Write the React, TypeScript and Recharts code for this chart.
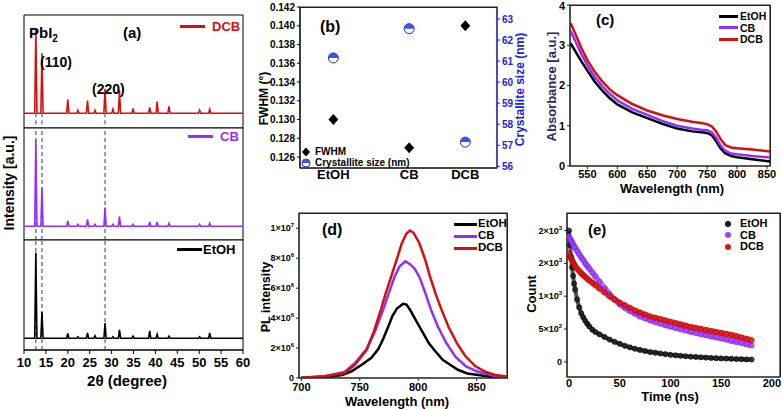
import React from "react";
import { ComposedChart, Line, Scatter, XAxis, YAxis, ReferenceLine, ReferenceArea, Legend } from "recharts";

const FONT = "Arial, 'Liberation Sans', sans-serif";
const RED = "#d41010";
const PURPLE = "#9030f8";
const BLACK = "#000000";
const DASH = "#2d6b8c";
const BLUE = "#2222dd";
const FRAME = "#222222";

// (a) XRD: peak positions (2θ) and peak heights (a.u.) per solvent
const xrdPeakPos = [12.7, 14.1, 20.0, 22.3, 24.5, 26.2, 28.5, 30.3, 31.8, 34.9, 38.7, 40.4, 43.1, 50.1, 52.4];
const xrdDCB = [86, 61, 14, 3, 13, 3, 25, 4, 23, 5, 6, 12, 7, 3, 4];
const xrdCB = [88, 39, 5.5, 2, 7, 2, 19, 2, 10, 2, 4.5, 4.5, 3, 2, 3];
const xrdEtOH = [87, 27, 5, 1.5, 5.5, 2.5, 15.5, 1.5, 8.5, 2, 7.5, 4, 2, 1.5, 5.5];
const xrdGuides = [12.7, 14.1, 28.5];
const xrdTicks = [10, 15, 20, 25, 30, 35, 40, 45, 50, 55, 60];
const PEAK_HALF = 0.25;

// (b) FWHM / crystallite size
const solvents = ["EtOH", "CB", "DCB"];
const solventPos = [1, 2, 2.74];
const fwhmVals = [0.13, 0.127, 0.14];
const crystalSizes = [61.15, 62.54, 57.15];
const fwhmTicks = [0.126, 0.128, 0.13, 0.132, 0.134, 0.136, 0.138, 0.14, 0.142];
const sizeTicks = [56, 57, 58, 59, 60, 61, 62, 63];

// (c) absorbance
const absWl = [522, 530, 540, 550, 562, 575, 587, 600, 625, 650, 675, 700, 725, 740, 750, 758, 765, 772, 780, 790, 800, 825, 855];
const absEtOH = [3.05, 2.85, 2.6, 2.37, 2.1, 1.87, 1.69, 1.53, 1.33, 1.19, 1.05, 0.93, 0.86, 0.84, 0.82, 0.76, 0.62, 0.45, 0.32, 0.25, 0.22, 0.17, 0.11];
const absCB = [3.35, 3.1, 2.78, 2.5, 2.22, 1.98, 1.8, 1.63, 1.42, 1.27, 1.12, 1.0, 0.93, 0.9, 0.89, 0.83, 0.7, 0.52, 0.38, 0.31, 0.29, 0.25, 0.21];
const absDCB = [3.55, 3.28, 2.93, 2.63, 2.35, 2.1, 1.91, 1.76, 1.54, 1.38, 1.26, 1.17, 1.1, 1.07, 1.04, 0.98, 0.86, 0.68, 0.52, 0.46, 0.44, 0.41, 0.36];
const absXTicks = [550, 600, 650, 700, 750, 800, 850];
const absYTicks = [0, 1, 2, 3, 4];

// (d) PL spectra (intensity in units of 10^6)
const plEtohWl = [700, 720, 735, 743, 752, 760, 766, 770, 774, 778, 782, 787, 790, 793, 797, 801, 805, 809, 815, 821, 827, 834, 842, 850, 865, 876];
const plEtoh = [0.01, 0.05, 0.2, 0.45, 0.9, 1.35, 1.95, 2.6, 3.35, 4.15, 4.65, 4.95, 4.9, 4.56, 4.0, 3.44, 2.9, 2.33, 1.75, 1.22, 0.9, 0.55, 0.3, 0.22, 0.05, 0.02];
const plCbWl = [700, 720, 737, 746, 756, 763, 770, 775, 780, 784, 789, 793, 797, 801, 806, 811, 817, 824, 832, 841, 850, 866, 876];
const plCb = [0.02, 0.12, 0.4, 1.0, 1.95, 3.1, 4.55, 5.7, 6.8, 7.45, 7.8, 7.6, 7.3, 6.75, 5.7, 4.55, 3.4, 2.35, 1.4, 0.78, 0.45, 0.12, 0.05];
const plDcbWl = [700, 720, 737, 746, 756, 762, 768, 772, 777, 782, 786, 790, 793, 796, 801, 806, 810, 815, 820, 826, 833, 840, 849, 858, 866, 876];
const plDcb = [0.02, 0.11, 0.33, 0.9, 1.9, 3.1, 4.55, 5.6, 6.8, 8.0, 9.0, 9.65, 9.85, 9.7, 9.0, 7.9, 6.8, 5.6, 4.55, 3.4, 2.35, 1.5, 0.78, 0.4, 0.2, 0.1];
const plXTicks = [700, 750, 800, 850];
const plYTicks = [0, 2, 4, 6, 8, 10];
const plYMant = ["0", "2", "4", "6", "8", "1"];
const plYExp = ["", "6", "6", "6", "6", "7"];

// (e) TRPL decay
const trTimes = [0, 1, 2, 3, 4, 5, 6, 8, 10, 12, 14, 16, 18, 20, 23, 26, 30, 35, 40, 45, 50, 55, 60, 65, 70, 75, 80, 85, 90, 95, 100, 105, 110, 115, 120, 125, 130, 135, 140, 145, 150, 155, 160, 165, 170, 175, 180];
const trEtOH = [2000, 1780, 1600, 1440, 1310, 1190, 1100, 950, 830, 740, 680, 625, 580, 540, 490, 455, 420, 380, 340, 305, 275, 245, 222, 200, 182, 166, 150, 140, 128, 118, 108, 100, 93, 86, 80, 75, 70, 65, 61, 57, 53, 50, 47, 44, 41, 38, 36];
const trCB = [1900, 1880, 1850, 1820, 1790, 1760, 1740, 1690, 1640, 1590, 1550, 1500, 1460, 1420, 1360, 1300, 1220, 1120, 1030, 950, 880, 825, 775, 735, 695, 665, 635, 610, 585, 560, 540, 520, 500, 480, 460, 442, 425, 408, 390, 375, 360, 342, 322, 305, 290, 270, 250];
const trDCB = [1650, 1610, 1575, 1545, 1515, 1485, 1460, 1420, 1385, 1350, 1320, 1295, 1265, 1240, 1205, 1170, 1120, 1060, 1000, 950, 900, 860, 820, 780, 750, 720, 690, 670, 650, 630, 610, 590, 570, 550, 530, 515, 500, 485, 470, 455, 440, 425, 410, 390, 370, 350, 330];
const trXTicks = [0, 50, 100, 150, 200];
const trYTicks = [0, 500, 1000, 1500, 2000];
const trYMant = ["0", "5", "1", "2", "2"];
const trYExp = ["", "2", "3", "3", "3"];

const tickStyle = (fs: number, fill = "#000") => ({ fontSize: fs, fontWeight: 700, fontFamily: FONT, fill });

const xrdProfile = (heights: number[]) => {
  const pts = [{ x: 10, y: 0 }];
  xrdPeakPos.forEach((p, i) => {
    pts.push({ x: p - PEAK_HALF, y: 0 }, { x: p, y: heights[i] }, { x: p + PEAK_HALF, y: 0 });
  });
  pts.push({ x: 60, y: 0 });
  return pts;
};

// y tick like "2×10⁶" with a raised exponent
const powTick = (ticks: number[], mant: string[], exps: string[], fs: number) => (props: any) => {
  const i = ticks.indexOf(props.payload.value);
  const e = exps[i];
  return (
    <text x={props.x} y={props.y} textAnchor="end" dy="0.35em" fontFamily={FONT} fontWeight={700} fontSize={fs} fill="#000">
      <tspan>{e ? `${mant[i]}×10` : mant[i]}</tspan>
      {e ? <tspan dy={-4} fontSize={fs - 3}>{e}</tspan> : null}
    </text>
  );
};

const vLabel = (text: string, dx: number, dy: number, fs: number, fill = "#000") => (props: any) => {
  const vb = props.viewBox || {};
  const x = vb.x + dx;
  const y = vb.y + vb.height / 2 + dy;
  return (
    <text x={x} y={y} transform={`rotate(-90 ${x} ${y})`} textAnchor="middle" dominantBaseline="central"
      fontFamily={FONT} fontWeight={700} fontSize={fs} fill={fill}>{text}</text>
  );
};

const hLabel = (text: string, dx: number, dy: number, fs: number) => (props: any) => {
  const vb = props.viewBox || {};
  return (
    <text x={vb.x + vb.width / 2 + dx} y={vb.y + dy} textAnchor="middle" dominantBaseline="central"
      fontFamily={FONT} fontWeight={700} fontSize={fs} fill="#000">{text}</text>
  );
};

type LegOpts = { iconW?: number; rowH: number; fontSize: number; gap: number; colored?: boolean; dot?: boolean };
const byOrder = (payload: any[]) =>
  [...(payload || [])].sort((a, b) => solvents.indexOf(a.value) - solvents.indexOf(b.value));

const legendContent = (o: LegOpts) => (props: any) => (
  <div style={{ fontFamily: FONT, fontWeight: 700, fontSize: o.fontSize }}>
    {byOrder(props.payload).map((p: any) => (
      <div key={p.value} style={{ display: "flex", alignItems: "center", height: o.rowH, whiteSpace: "nowrap" }}>
        {o.dot ? (
          <svg width={8} height={8} style={{ marginRight: o.gap }}><circle cx={4} cy={4} r={3} fill={p.color} /></svg>
        ) : (
          <span style={{ display: "inline-block", width: o.iconW, height: 3, background: p.color, marginRight: o.gap }} />
        )}
        <span style={{ color: o.colored ? p.color : "#000", lineHeight: 1 }}>{p.value}</span>
      </div>
    ))}
  </div>
);

const diamond = (cx: number, cy: number, r: number) => (
  <polygon points={`${cx},${cy - r} ${cx + r * 0.9},${cy} ${cx},${cy + r} ${cx - r * 0.9},${cy}`} fill="#000" />
);
const halfCircle = (cx: number, cy: number, r: number) => (
  <g>
    <circle cx={cx} cy={cy} r={r} fill="#fff" stroke={BLUE} strokeWidth={1} />
    <path d={`M${cx - r},${cy} A${r},${r} 0 0 1 ${cx + r},${cy} Z`} fill="#3a55e6" />
  </g>
);

const noOffsetLegend = { layout: "vertical" as const, align: "center" as const, verticalAlign: "middle" as const };

// plot box outline drawn through the axes' scales
const frameBox = (xd: number[], yd: number[]) => (
  <ReferenceArea xAxisId="b" yAxisId="l" x1={xd[0]} x2={xd[1]} y1={yd[0]} y2={yd[1]}
    fill="none" fillOpacity={0} stroke={FRAME} strokeWidth={1.2} ifOverflow="visible" />
);

// thin edge of a panel box, on top of everything
const edge = (left: number, top: number, width: number, height: number) => (
  <div style={{ position: "absolute", left, top, width, height, background: FRAME, zIndex: 5, pointerEvents: "none" }} />
);

function XrdPanel(props: {
  heights: number[]; name: string; color: string; top: number; plotH: number; yMin: number;
  last?: boolean; legLeft: number; legTop: number; legGap: number; fromBase?: boolean;
}) {
  const { heights, name, color, top, plotH, yMin, last, legLeft, legTop, legGap, fromBase } = props;
  const axisH = last ? 42 : 0;
  return (
    <div style={{ position: "absolute", left: 0, top }}>
      <ComposedChart width={250} height={plotH + axisH + 1} data={xrdProfile(heights)}
        margin={{ top: 1, right: 7, bottom: 0, left: 24 }}>
        <XAxis xAxisId="b" dataKey="x" type="number" domain={[10, 60]} ticks={xrdTicks} allowDataOverflow
          hide={!last} height={axisH} stroke="#000" tick={tickStyle(13)} tickSize={4} tickMargin={4}
          label={last ? hLabel("2θ (degree)", -6.5, 30, 15) : undefined} />
        <YAxis yAxisId="l" type="number" domain={[yMin, 100]} allowDataOverflow hide width={0} />
        <ReferenceArea xAxisId="b" yAxisId="l" x1={10} x2={60} y1={yMin} y2={100}
          fill="none" fillOpacity={0} stroke="#000" strokeWidth={1} ifOverflow="visible" />
        {xrdGuides.map((g) =>
          fromBase ? (
            <ReferenceLine key={g} xAxisId="b" yAxisId="l" segment={[{ x: g, y: 0 }, { x: g, y: yMin }]}
              stroke={DASH} strokeDasharray="4 3" strokeWidth={1.2} />
          ) : (
            <ReferenceLine key={g} xAxisId="b" yAxisId="l" x={g} stroke={DASH} strokeDasharray="4 3" strokeWidth={1.2} />
          )
        )}
        <Line xAxisId="b" yAxisId="l" dataKey="y" name={name} stroke={color} strokeWidth={1.6} dot={false}
          isAnimationActive={false} />
        <Legend {...noOffsetLegend} wrapperStyle={{ left: legLeft, top: legTop }}
          content={legendContent({ iconW: 25, rowH: 14, fontSize: 13, gap: legGap, colored: true })} />
      </ComposedChart>
    </div>
  );
}

function FwhmPanel() {
  const fwhmData = solventPos.map((x, i) => ({ x, y: fwhmVals[i] }));
  const sizeData = solventPos.map((x, i) => ({ x, y: crystalSizes[i] }));
  const bOrder = ["FWHM", "Crystallite size (nm)"];
  const bLegend = (props: any) => (
    <div style={{ fontFamily: FONT, fontWeight: 700, fontSize: 10 }}>
      {[...(props.payload || [])]
        .sort((a: any, b: any) => bOrder.indexOf(a.value) - bOrder.indexOf(b.value))
        .map((p: any) => (
          <div key={p.value} style={{ display: "flex", alignItems: "center", height: 10.5, whiteSpace: "nowrap" }}>
            <svg width={10} height={10} style={{ marginRight: 4 }}>
              {p.value === "FWHM" ? diamond(5, 5, 4.5) : halfCircle(5, 5, 4)}
            </svg>
            <span style={{ lineHeight: 1 }}>{p.value}</span>
          </div>
        ))}
    </div>
  );
  const xd = [0.56, 3.158];
  const yd = [0.12483, 0.142];
  return (
    <div style={{ position: "absolute", left: 255, top: 0 }}>
      <ComposedChart width={280} height={185} data={fwhmData} margin={{ top: 7, right: 0, bottom: 0, left: 0 }}>
        <XAxis xAxisId="b" dataKey="x" type="number" domain={xd} ticks={solventPos} allowDataOverflow
          tickFormatter={(v: number) => solvents[solventPos.indexOf(v)]} height={17} tickSize={0} tickMargin={2}
          tick={tickStyle(13)} stroke="#000" />
        <YAxis yAxisId="l" dataKey="y" type="number" domain={yd} ticks={fwhmTicks} allowDataOverflow
          tickFormatter={(v: number) => v.toFixed(3)} width={45} tickSize={3} tickMargin={2} tick={tickStyle(10)}
          stroke="#000" label={vLabel("FWHM (°)", 8.5, 11, 12)} />
        <YAxis yAxisId="r" orientation="right" dataKey="y" type="number" domain={[55.92, 63.57]} ticks={sizeTicks}
          allowDataOverflow width={38} tickSize={3} tickMargin={2} tick={tickStyle(10, BLUE)} stroke={BLUE}
          label={vLabel("Crystallite size (nm)", 23, 2, 12, BLUE)} />
        {frameBox(xd, yd)}
        <Scatter xAxisId="b" yAxisId="l" name="FWHM" data={fwhmData} fill="#000" isAnimationActive={false}
          shape={(p: any) => diamond(p.cx, p.cy, 5.5)} />
        <Scatter xAxisId="b" yAxisId="r" name="Crystallite size (nm)" data={sizeData} fill={BLUE}
          isAnimationActive={false} shape={(p: any) => halfCircle(p.cx, p.cy, 5)} />
        <Legend {...noOffsetLegend} wrapperStyle={{ left: 46, top: 147 }} content={bLegend} />
      </ComposedChart>
    </div>
  );
}

function AbsPanel() {
  const data = absWl.map((x, i) => ({ x, etoh: absEtOH[i], cb: absCB[i], dcb: absDCB[i] }));
  const xd = [521, 855];
  const yd = [0, 4];
  return (
    <div style={{ position: "absolute", left: 520, top: 0 }}>
      <ComposedChart width={262} height={200} data={data} margin={{ top: 5, right: 12, bottom: 0, left: 0 }}>
        <XAxis xAxisId="b" dataKey="x" type="number" domain={xd} ticks={absXTicks} allowDataOverflow
          height={34} tickSize={3} tickMargin={1} tick={tickStyle(11)} stroke={FRAME}
          label={hLabel("Wavelength (nm)", 2, 22.5, 13)} />
        <YAxis yAxisId="l" type="number" domain={yd} ticks={absYTicks} allowDataOverflow width={50}
          tickSize={3} tickMargin={2} tick={tickStyle(11)} stroke={FRAME}
          label={vLabel("Absorbance [a.u.]", 31.5, 1, 13, "#2b2b5e")} />
        {frameBox(xd, yd)}
        <Line xAxisId="b" yAxisId="l" dataKey="etoh" name="EtOH" stroke={BLACK} strokeWidth={2.5} dot={false} isAnimationActive={false} />
        <Line xAxisId="b" yAxisId="l" dataKey="cb" name="CB" stroke={PURPLE} strokeWidth={2.5} dot={false} isAnimationActive={false} />
        <Line xAxisId="b" yAxisId="l" dataKey="dcb" name="DCB" stroke={RED} strokeWidth={2.5} dot={false} isAnimationActive={false} />
        <Legend {...noOffsetLegend} wrapperStyle={{ left: 199, top: 11 }}
          content={legendContent({ iconW: 19, rowH: 11.3, fontSize: 10.5, gap: 2 })} />
      </ComposedChart>
    </div>
  );
}

function PlPanel() {
  const etoh = plEtohWl.map((x, i) => ({ x, y: plEtoh[i] }));
  const cb = plCbWl.map((x, i) => ({ x, y: plCb[i] }));
  const dcb = plDcbWl.map((x, i) => ({ x, y: plDcb[i] }));
  const xd = [698, 876];
  const yd = [0, 11.02];
  return (
    <div style={{ position: "absolute", left: 250, top: 200 }}>
      <ComposedChart width={265} height={209} data={dcb} margin={{ top: 13, right: 8, bottom: 0, left: 0 }}>
        <XAxis xAxisId="b" dataKey="x" type="number" domain={xd} ticks={plXTicks} allowDataOverflow
          height={31} tickSize={3} tickMargin={2} tick={tickStyle(11)} stroke={FRAME}
          label={hLabel("Wavelength (nm)", -6, 23.7, 13)} />
        <YAxis yAxisId="l" dataKey="y" type="number" domain={yd} ticks={plYTicks} allowDataOverflow width={49}
          tickSize={3} tickMargin={2} tick={powTick(plYTicks, plYMant, plYExp, 9)}
          stroke={FRAME} label={vLabel("PL intensity", 15.5, 1.5, 12.5)} />
        {frameBox(xd, yd)}
        <Line xAxisId="b" yAxisId="l" data={etoh} dataKey="y" name="EtOH" stroke={BLACK} strokeWidth={2.5} dot={false} isAnimationActive={false} />
        <Line xAxisId="b" yAxisId="l" data={cb} dataKey="y" name="CB" stroke={PURPLE} strokeWidth={2.5} dot={false} isAnimationActive={false} />
        <Line xAxisId="b" yAxisId="l" data={dcb} dataKey="y" name="DCB" stroke={RED} strokeWidth={2.5} dot={false} isAnimationActive={false} />
        <Legend {...noOffsetLegend} wrapperStyle={{ left: 204, top: 18 }}
          content={legendContent({ iconW: 23, rowH: 12, fontSize: 11.5, gap: 1 })} />
      </ComposedChart>
    </div>
  );
}

function TrplPanel() {
  const mk = (vals: number[]) => trTimes.map((x, i) => ({ x, y: vals[i] }));
  const series = [
    { name: "EtOH", vals: trEtOH, color: "#1a1a1a", edge: "#000", w: 4 },
    { name: "CB", vals: trCB, color: "#a040ff", edge: "#7a1fe0", w: 6 },
    { name: "DCB", vals: trDCB, color: "#e01515", edge: "#b00000", w: 6 },
  ];
  const xd = [-2, 208];
  const yd = [-230, 2266];
  return (
    <div style={{ position: "absolute", left: 520, top: 200 }}>
      <ComposedChart width={262} height={209} data={mk(trEtOH)} margin={{ top: 13, right: 2, bottom: 0, left: 0 }}>
        <XAxis xAxisId="b" dataKey="x" type="number" domain={xd} ticks={trXTicks} allowDataOverflow
          height={32} tickSize={0} tickMargin={2} tick={tickStyle(11)} stroke={FRAME}
          label={hLabel("Time (ns)", -3.5, 19.7, 13)} />
        <YAxis yAxisId="l" dataKey="y" type="number" domain={yd} ticks={trYTicks} allowDataOverflow width={47}
          tickSize={3} tickMargin={2} tick={powTick(trYTicks, trYMant, trYExp, 9)}
          stroke={FRAME} label={vLabel("Count", 11.5, -1, 13)} />
        {frameBox(xd, yd)}
        {series.map((s) => (
          <Line key={s.name} xAxisId="b" yAxisId="l" data={mk(s.vals)} dataKey="y" name={s.name} stroke={s.color}
            strokeOpacity={0.75} strokeWidth={s.w} isAnimationActive={false}
            dot={{ r: 2.6, fill: s.color, stroke: s.edge, strokeWidth: 0.8, fillOpacity: 0.8 }} />
        ))}
        <Legend {...noOffsetLegend} wrapperStyle={{ left: 204, top: 18 }}
          content={legendContent({ rowH: 11.5, fontSize: 11, gap: 8, dot: true })} />
      </ComposedChart>
    </div>
  );
}

const letter = (t: string, left: number, top: number, fs = 15) => (
  <div style={{ position: "absolute", left, top, fontFamily: FONT, fontWeight: 700, fontSize: fs, lineHeight: 1 }}>{t}</div>
);

export default function App() {
  return (
    <div style={{ position: "absolute", left: 0, top: 0, width: 782, height: 409, background: "#fff", overflow: "hidden" }}>
      <XrdPanel heights={xrdDCB} name="DCB" color={RED} top={14} plotH={113} yMin={-15} fromBase
        legLeft={180} legTop={5} legGap={7} />
      <XrdPanel heights={xrdCB} name="CB" color={PURPLE} top={127} plotH={112} yMin={-14}
        legLeft={188} legTop={2} legGap={7} />
      <XrdPanel heights={xrdEtOH} name="EtOH" color={BLACK} top={239} plotH={110} yMin={-12} last
        legLeft={177} legTop={3} legGap={1} />
      <div style={{
        position: "absolute", left: 9, top: 183, transform: "translate(-50%, -50%) rotate(-90deg)",
        fontFamily: FONT, fontWeight: 700, fontSize: 14, whiteSpace: "nowrap",
      }}>Intensity [a.u.]</div>
      <div style={{ position: "absolute", left: 29, top: 25, fontFamily: FONT, fontWeight: 700, fontSize: 15, lineHeight: 1 }}>
        PbI<span style={{ fontSize: 10, position: "relative", top: 4 }}>2</span>
      </div>
      {letter("(110)", 40, 55, 14)}
      {letter("(220)", 92, 82, 14)}
      {letter("(a)", 123, 25)}
      <FwhmPanel />
      {letter("(b)", 320, 19, 16)}
      <AbsPanel />
      {letter("(c)", 596, 12)}
      <PlPanel />
      {letter("(d)", 322, 222, 16)}
      <TrplPanel />
      {letter("(e)", 588, 222)}
      {edge(300, 7, 197, 1)}
      {edge(570, 5, 201, 1)}
      {edge(770, 5, 1, 161)}
      {edge(299, 213, 209, 1)}
      {edge(507, 213, 1, 166)}
      {edge(567, 213, 214, 1)}
      {edge(780, 213, 1, 164)}
    </div>
  );
}
